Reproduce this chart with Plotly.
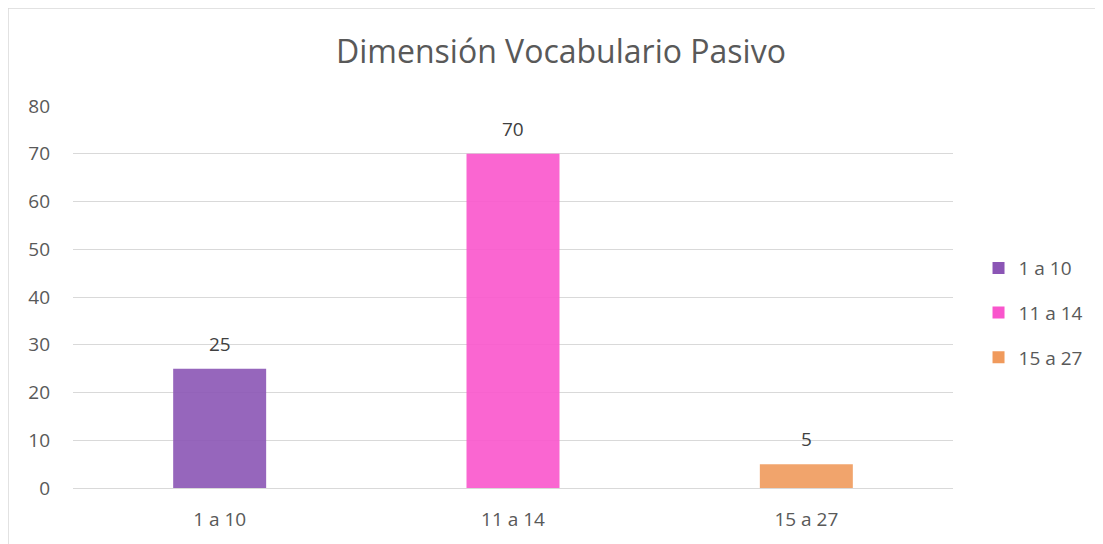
import plotly.graph_objects as go

categories = ["1 a 10", "11 a 14", "15 a 27"]
values = [25, 70, 5]
colors = ["#8B55B5", "#F955CC", "#F09A5C"]
title = "Dimensión Vocabulario Pasivo"
y_ticks = [0, 10, 20, 30, 40, 50, 60, 70, 80]

FONT = "Open Sans, Liberation Sans, sans-serif"
TXT = "#595959"
FS = 19

fig = go.Figure()
for i, (c, v) in enumerate(zip(categories, values)):
    fig.add_trace(go.Bar(
        x=[c], y=[v], name=c, width=0.317,
        marker=dict(color=colors[i], opacity=0.9, line=dict(width=0)),
        legendgroup=c, hoverinfo="x+y",
    ))
    fig.add_annotation(x=c, y=v, text=str(v), showarrow=False, yshift=25,
                       font=dict(family=FONT, size=FS, color="#404040"))

fig.update_layout(
    width=1095, height=536,
    margin=dict(l=65, r=150, t=98, b=56),
    paper_bgcolor="white", plot_bgcolor="white",
    barmode="overlay",
    title=dict(text=title, x=0.5545, xref="paper", xanchor="center",
               y=0.918, yref="container", yanchor="middle",
               font=dict(family=FONT, size=32, color=TXT)),
    font=dict(family=FONT, color=TXT, size=FS),
    xaxis=dict(showgrid=False, showline=False, ticks="", tickfont=dict(size=FS, color=TXT),
               range=[-0.5, 2.5], ticklabelstandoff=18),
    yaxis=dict(range=[0, 80], tickvals=y_ticks, showgrid=True, gridcolor="#D9D9D9",
               gridwidth=1, zeroline=True, zerolinecolor="#D9D9D9", zerolinewidth=1,
               ticks="", tickfont=dict(size=FS, color=TXT), ticklabelstandoff=22,
               layer="below traces"),
    legend=dict(x=1.029, y=0.458, xref="paper", xanchor="left", yanchor="middle",
                font=dict(family=FONT, size=FS, color=TXT), tracegroupgap=17,
                itemwidth=30, traceorder="grouped"),
    showlegend=True,
)

fig.add_shape(type="rect", xref="paper", yref="paper",
              x0=(0 - 65) / 880, x1=(1095 - 65) / 880,
              y0=(480 - 560) / 382, y1=(480 - 0) / 382,
              line=dict(color="#D9D9D9", width=1.5), fillcolor="rgba(0,0,0,0)", layer="below")

fig.write_html("out.html")
